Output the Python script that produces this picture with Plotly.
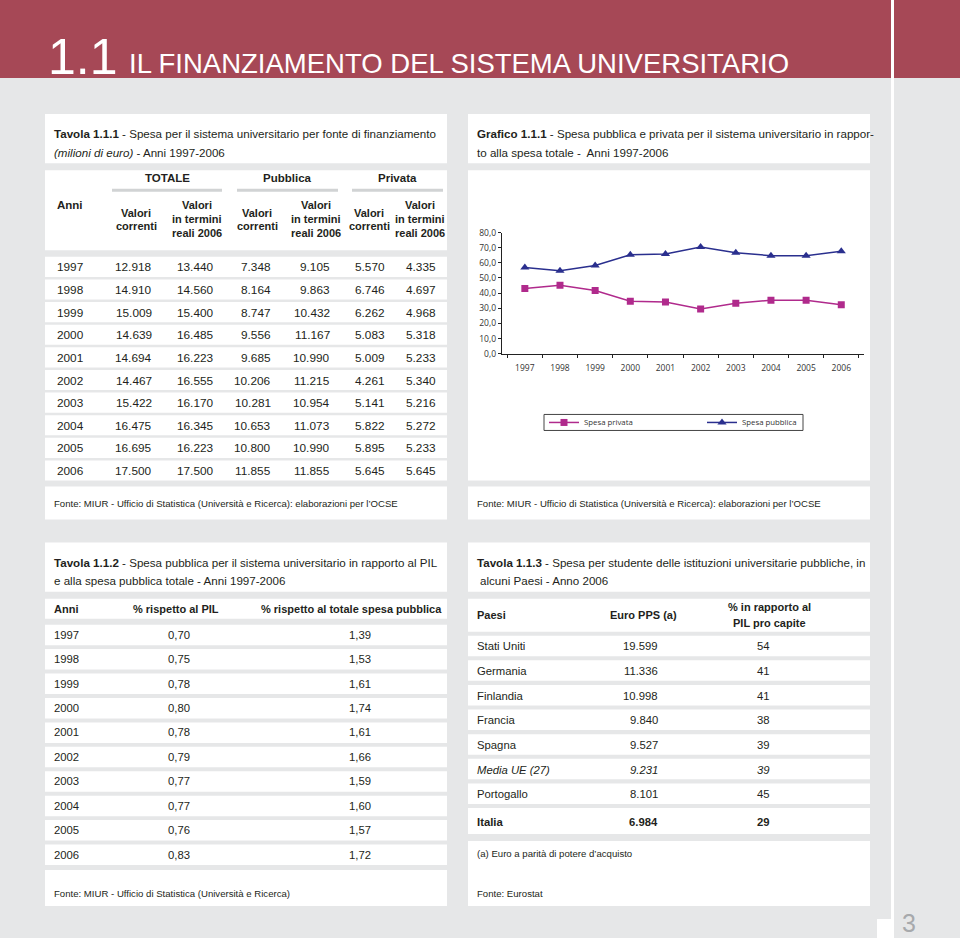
import plotly.graph_objects as go

W, H = 960, 938
FONT = "Liberation Sans, Arial, sans-serif"
TXT = "#231F20"
BG = "#E6E7E8"
RED = "#A64856"
PINK = "#B02A8C"
NAVY = "#2A2F8E"

# ---------------- data ----------------
years = [1997, 1998, 1999, 2000, 2001, 2002, 2003, 2004, 2005, 2006]
tot_corr = [12918, 14910, 15009, 14639, 14694, 14467, 15422, 16475, 16695, 17500]
tot_real = [13440, 14560, 15400, 16485, 16223, 16555, 16170, 16345, 16223, 17500]
pub_corr = [7348, 8164, 8747, 9556, 9685, 10206, 10281, 10653, 10800, 11855]
pub_real = [9105, 9863, 10432, 11167, 10990, 11215, 10954, 11073, 10990, 11855]
pri_corr = [5570, 6746, 6262, 5083, 5009, 4261, 5141, 5822, 5895, 5645]
pri_real = [4335, 4697, 4968, 5318, 5233, 5340, 5216, 5272, 5233, 5645]

spesa_privata = [43.1, 45.2, 41.7, 34.7, 34.1, 29.5, 33.3, 35.3, 35.3, 32.3]
spesa_pubblica = [56.9, 54.8, 58.3, 65.3, 65.9, 70.5, 66.7, 64.7, 64.7, 67.7]

pct_pil = [0.70, 0.75, 0.78, 0.80, 0.78, 0.79, 0.77, 0.77, 0.76, 0.83]
pct_spesa_pub = [1.39, 1.53, 1.61, 1.74, 1.61, 1.66, 1.59, 1.60, 1.57, 1.72]

paesi = ["Stati Uniti", "Germania", "Finlandia", "Francia", "Spagna",
         "Media UE (27)", "Portogallo", "Italia"]
euro_pps = [19599, 11336, 10998, 9840, 9527, 9231, 8101, 6984]
pct_pil_capite = [54, 41, 41, 38, 39, 39, 45, 29]


def thou(v):
    return f"{v:,}".replace(",", ".")


def dec(v):
    return f"{v:.2f}".replace(".", ",")


fig = go.Figure()


def PY(y):
    # page pixel row -> paper fraction (compensates the photo's vertical framing)
    return 1 - ((y - 6) / 0.9872) / H


def rect(x0, y0, x1, y1, color="white"):
    fig.add_shape(type="rect", xref="paper", yref="paper",
                  x0=x0 / W, x1=x1 / W, y0=PY(y1), y1=PY(y0),
                  fillcolor=color, line_width=0, layer="below")


def line(x0, y0, x1, y1, color, width):
    fig.add_shape(type="line", xref="paper", yref="paper",
                  x0=x0 / W, x1=x1 / W, y0=PY(y0), y1=PY(y1),
                  line=dict(color=color, width=width), layer="below")


def T(x, y, text, size=12, anchor="left", color=TXT, family=FONT):
    fig.add_annotation(x=x / W, y=PY(y), xref="paper", yref="paper",
                       text=text, showarrow=False, xanchor=anchor,
                       yanchor="middle", borderpad=0,
                       font=dict(family=family, size=size, color=color))


TS = 11.6   # title size
DS = 11.8   # data size table 1
D2 = 11.3   # data size tables 2/3
HS = 11     # header size
FS = 9.6    # footer size

# ---------------- page furniture ----------------
rect(0, 0, 960, 78, RED)
rect(891, 0, 894, 950, "white")
rect(877, 918, 891, 950, "white")
T(47, 57, "1.1", size=50, color="white")
T(128, 63, "IL FINANZIAMENTO DEL SISTEMA UNIVERSITARIO", size=27.5, color="white")
T(909, 922, "3", size=25, anchor="center", color="#A7A9AC")

LX0, LX1 = 45, 447
RX0, RX1 = 468, 870

# ---------------- Tavola 1.1.1 ----------------
rect(LX0, 114, LX1, 163)
T(53, 133, "<b>Tavola 1.1.1</b> - Spesa per il sistema universitario per fonte di finanziamento", TS)
T(53, 152, "<i>(milioni di euro)</i> - Anni 1997-2006", TS)

rect(LX0, 170, LX1, 250)
for (a, b, lab) in [(112, 222, "TOTALE"), (237, 338, "Pubblica"), (352, 443, "Privata")]:
    T((a + b) / 2, 178, f"<b>{lab}</b>", HS + 0.5, "center")
    line(a, 190, b, 190, "#D1D3D4", 3)
T(56, 205, "<b>Anni</b>", HS + 0.5)
col_c = [136, 197, 257, 316, 369, 420]
for k, c in enumerate(col_c):
    if k % 2 == 0:
        T(c, 213, "<b>Valori</b>", HS, "center")
        T(c, 226, "<b>correnti</b>", HS, "center")
    else:
        T(c, 205, "<b>Valori</b>", HS, "center")
        T(c, 219, "<b>in termini</b>", HS, "center")
        T(c, 233, "<b>reali 2006</b>", HS, "center")

col_r = [153, 215, 272, 331, 386, 437]
cols = [tot_corr, tot_real, pub_corr, pub_real, pri_corr, pri_real]
for i, yv in enumerate(years):
    top = 256.6 + 22.6 * i
    rect(LX0, top, LX1, top + 20)
    yc = top + 10.5
    T(56, yc, str(yv), DS)
    for c, arr in zip(col_r, cols):
        T(c, yc, thou(arr[i]), DS, "right")

rect(LX0, 486, LX1, 519)
T(53, 503, "Fonte: MIUR - Ufficio di Statistica (Università e Ricerca): elaborazioni per l’OCSE", FS)

# ---------------- Grafico 1.1.1 ----------------
rect(RX0, 114, RX1, 163)
T(476, 133, "<b>Grafico 1.1.1</b> - Spesa pubblica e privata per il sistema universitario in rappor-", TS)
T(476, 152, "to alla spesa totale -  Anni 1997-2006", TS)
rect(RX0, 170, RX1, 480)
rect(RX0, 486, RX1, 519)
T(476, 503, "Fonte: MIUR - Ufficio di Statistica (Università e Ricerca): elaborazioni per l’OCSE", FS)

fig.add_trace(go.Scatter(x=[str(y) for y in years], y=spesa_privata, name="Spesa privata",
                         mode="lines+markers", line=dict(color=PINK, width=1.5),
                         marker=dict(symbol="square", size=7, color=PINK)))
fig.add_trace(go.Scatter(x=[str(y) for y in years], y=spesa_pubblica, name="Spesa pubblica",
                         mode="lines+markers", line=dict(color=NAVY, width=1.5),
                         marker=dict(symbol="triangle-up", size=8, color=NAVY)))

# legend box
fig.add_shape(type="rect", xref="paper", yref="paper",
              x0=544 / W, x1=803 / W, y0=PY(430), y1=PY(414),
              line=dict(color="#444444", width=1), fillcolor="white", layer="below")

# ---------------- Tavola 1.1.2 ----------------
rect(LX0, 542, LX1, 591)
T(53, 562, "<b>Tavola 1.1.2</b> - Spesa pubblica per il sistema universitario in rapporto al PIL", TS)
T(53, 580, "e alla spesa pubblica totale - Anni 1997-2006", TS)
rect(LX0, 598, LX1, 618)
T(53, 608, "<b>Anni</b>", HS)
T(176, 608, "<b>% rispetto al PIL</b>", HS, "center")
T(351, 608, "<b>% rispetto al totale spesa pubblica</b>", HS, "center")
for i, yv in enumerate(years):
    top = 624 + 24.4 * i
    rect(LX0, top, LX1, top + 20.5)
    yc = top + 10
    T(53, yc, str(yv), D2)
    T(191, yc, dec(pct_pil[i]), D2, "right")
    T(372, yc, dec(pct_spesa_pub[i]), D2, "right")
rect(LX0, 869, LX1, 905)
T(53, 893, "Fonte: MIUR - Ufficio di Statistica (Università e Ricerca)", FS)

# ---------------- Tavola 1.1.3 ----------------
rect(RX0, 542, RX1, 591)
T(476, 562, "<b>Tavola 1.1.3</b> - Spesa per studente delle istituzioni universitarie pubbliche, in", TS)
T(479, 580, "alcuni Paesi - Anno 2006", TS)
rect(RX0, 598, RX1, 631)
T(476, 614, "<b>Paesi</b>", HS)
T(643, 614, "<b>Euro PPS (a)</b>", HS, "center")
T(769, 606, "<b>% in rapporto al</b>", HS, "center")
T(769, 622, "<b>PIL pro capite</b>", HS, "center")
for i, p in enumerate(paesi):
    top = 635 + 24.6 * i
    h = 26 if p == "Italia" else 20.5
    rect(RX0, top, RX1, top + h)
    yc = top + h / 2 + 0.5
    a, b = thou(euro_pps[i]), str(pct_pil_capite[i])
    if p == "Italia":
        p, a, b = f"<b>{p}</b>", f"<b>{a}</b>", f"<b>{b}</b>"
    elif p.startswith("Media"):
        p, a, b = f"<i>{p}</i>", f"<i>{a}</i>", f"<i>{b}</i>"
    T(476, yc, p, D2)
    T(659, yc, a, D2, "right")
    T(771, yc, b, D2, "right")
rect(RX0, 840, RX1, 905)
T(476, 853, "(a) Euro a parità di potere d’acquisto", FS)
T(476, 893, "Fonte: Eurostat", FS)

# ---------------- axes / layout ----------------
CF = dict(family="Open Sans, DejaVu Sans, sans-serif", size=8.5, color="#333333")
LF = dict(family="Open Sans, DejaVu Sans, sans-serif", size=7.8, color="#333333")
fig.update_layout(
    width=W, height=H, margin=dict(l=0, r=0, t=0, b=0),
    paper_bgcolor=BG, plot_bgcolor="rgba(0,0,0,0)",
    separators=",.",
    showlegend=True,
    legend=dict(orientation="h", x=544 / W, y=PY(422), xanchor="left", yanchor="middle",
                bgcolor="rgba(0,0,0,0)", borderwidth=0, font=LF,
                entrywidth=113, entrywidthmode="pixels", itemwidth=30),
    xaxis=dict(domain=[501.7 / W, 864.4 / W], type="category", showgrid=False,
               showline=True, linecolor="#222222", linewidth=1, ticks="outside",
               tickson="boundaries", ticklen=3, tickcolor="#222222", tickfont=CF,
               ticklabelstandoff=6, fixedrange=True),
    yaxis=dict(domain=[PY(353.3), PY(232.3)], range=[0, 80], dtick=10,
               tickformat=".1f", showgrid=False, zeroline=False, showline=True,
               linecolor="#222222", linewidth=1, ticks="outside", ticklen=3,
               tickcolor="#222222", tickfont=CF, fixedrange=True),
)

css_js = (
    "var s=document.createElement('style');"
    "s.textContent='html,body{margin:0!important;padding:0!important;overflow:hidden;"
    "background:%s;}';"
    "document.head.appendChild(s);" % BG
)
fig.write_html("out.html", config={"displayModeBar": False, "staticPlot": True},
               post_script=css_js)
